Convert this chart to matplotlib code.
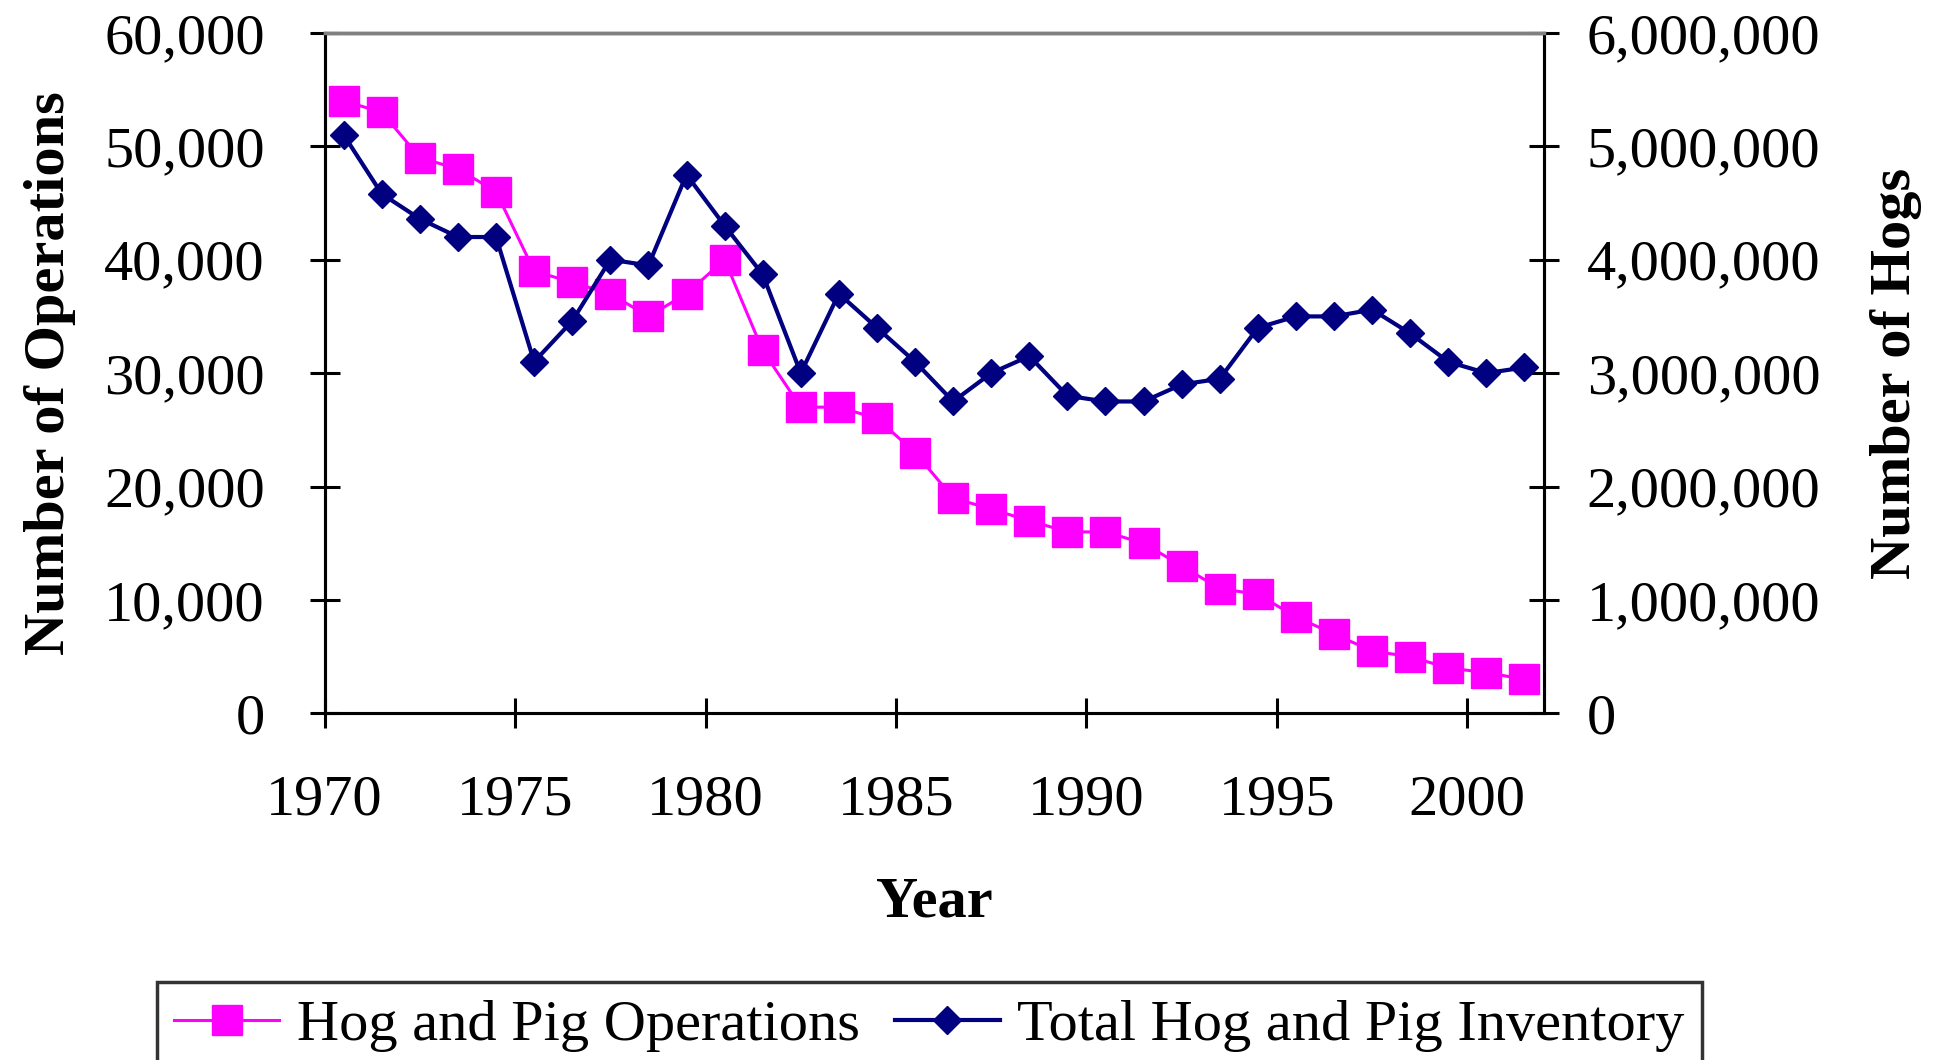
import matplotlib
matplotlib.use("Agg")
import matplotlib.pyplot as plt
from matplotlib.ticker import FuncFormatter

# yearly values, plotted at mid-year like the Excel category axis
years = list(range(1970, 2002))
operations = [54000, 53000, 49000, 48000, 46000, 39000, 38000, 37000, 35000, 37000,
              40000, 32000, 27000, 27000, 26000, 23000, 19000, 18000, 17000, 16000,
              16000, 15000, 13000, 11000, 10500, 8500, 7000, 5500, 5000, 4000,
              3600, 3000]
inventory = [5100000, 4580000, 4360000, 4200000, 4200000, 3100000, 3460000, 4000000,
             3950000, 4750000, 4300000, 3870000, 3000000, 3700000, 3400000, 3100000,
             2750000, 3000000, 3150000, 2800000, 2750000, 2750000, 2900000, 2950000,
             3400000, 3500000, 3500000, 3560000, 3350000, 3100000, 3000000, 3050000]
x_ticks = [1970, 1975, 1980, 1985, 1990, 1995, 2000]

plt.rcParams["font.family"] = ["Liberation Serif", "DejaVu Serif"]

FS = 42
comma = FuncFormatter(lambda v, _: "{:,.0f}".format(v))

fig = plt.figure(figsize=(19.44, 10.60), dpi=100)
ax = fig.add_axes([0.167, 0.327, 0.627, 0.642])
ax2 = ax.twinx()

xs = [y + 0.5 for y in years]
l1, = ax.plot(xs, operations, color="#FF00FF", lw=2.2, marker="s", ms=21,
              label="Hog and Pig Operations", zorder=3)
l2, = ax2.plot(xs, inventory, color="#000080", lw=3.0, marker="D", ms=14,
               label="Total Hog and Pig Inventory", zorder=3)

ax.set_xlim(1970, 2002)
ax.set_ylim(0, 60000)
ax2.set_ylim(0, 6000000)
ax.set_xticks(x_ticks)
ax.set_yticks(range(0, 60001, 10000))
ax2.set_yticks(range(0, 6000001, 1000000))
ax.yaxis.set_major_formatter(comma)
ax2.yaxis.set_major_formatter(comma)

ax.tick_params(axis="x", direction="inout", length=22, width=2.2, labelsize=FS, pad=33)
ax.tick_params(axis="y", direction="inout", length=22, width=2.2, labelsize=FS, pad=32)
ax2.tick_params(axis="y", direction="inout", length=22, width=2.2, labelsize=FS, pad=20)

for a in (ax, ax2):
    for side in ("left", "right", "bottom"):
        a.spines[side].set_color("black")
        a.spines[side].set_linewidth(2.2)
    a.spines["top"].set_color("#808080")
    a.spines["top"].set_linewidth(2.5)

ax.set_xlabel("Year", fontsize=FS, fontweight="bold", labelpad=36)
ax.set_ylabel("Number of Operations", fontsize=FS, fontweight="bold", labelpad=20)
ax2.set_ylabel("Number of Hogs", fontsize=FS, fontweight="bold", rotation=90,
               labelpad=36)

leg = fig.legend(handles=[l1, l2], loc="upper center", bbox_to_anchor=(0.478, 0.101),
                 ncol=2, fontsize=FS, frameon=True, fancybox=False,
                 edgecolor="black", handlelength=1.8, handletextpad=0.3,
                 columnspacing=0.6, borderpad=0.3)
leg.get_frame().set_linewidth(2.5)

fig.savefig("out.png", dpi=100)
